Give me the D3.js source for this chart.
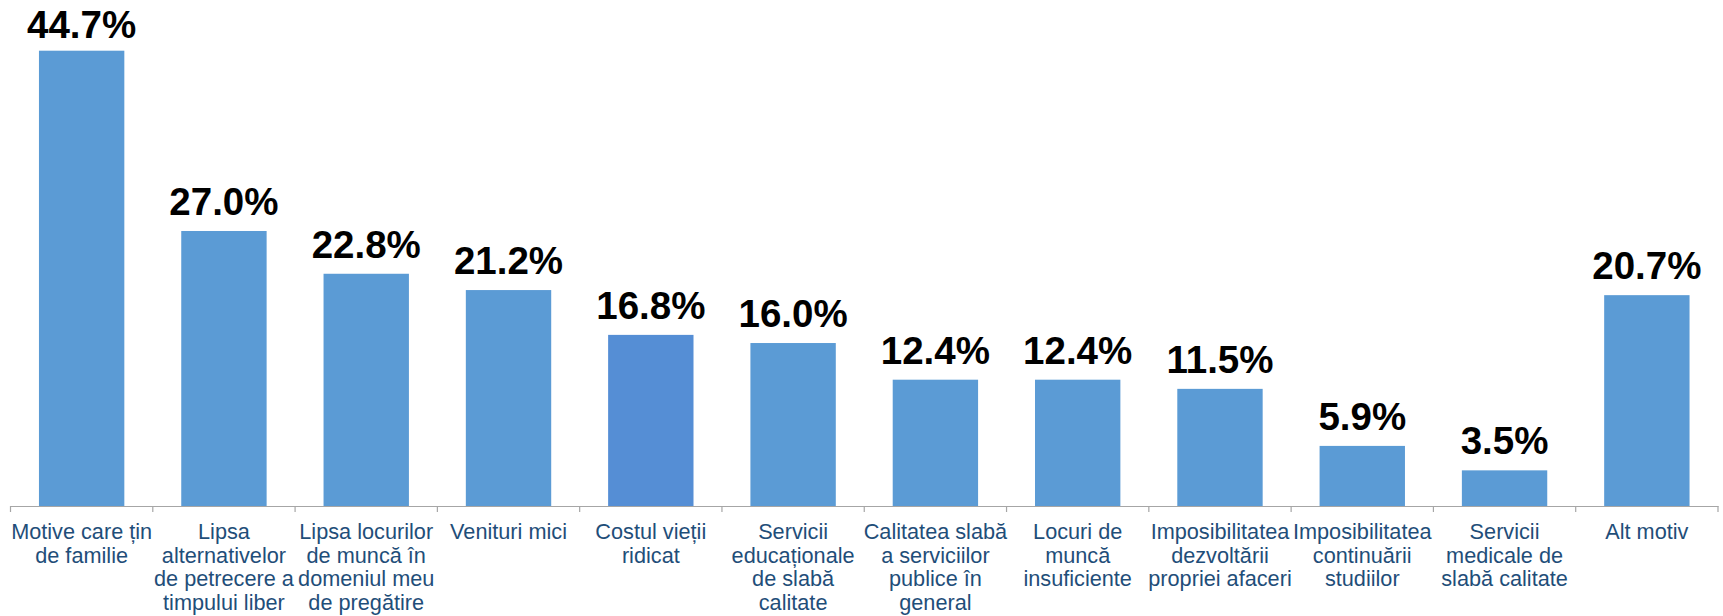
<!DOCTYPE html>
<html>
<head>
<meta charset="utf-8">
<script src="https://cdn.jsdelivr.net/npm/d3@7"></script>
<style>
  html, body { margin: 0; padding: 0; background: #fff; }
  svg { display: block; }
</style>
</head>
<body>
<svg id="chart" width="1723" height="616"></svg>
<script>
const categories = [
  "Motive care țin de familie",
  "Lipsa alternativelor de petrecere a timpului liber",
  "Lipsa locurilor de muncă în domeniul meu de pregătire",
  "Venituri mici",
  "Costul vieții ridicat",
  "Servicii educaționale de slabă calitate",
  "Calitatea slabă a serviciilor publice în general",
  "Locuri de muncă insuficiente",
  "Imposibilitatea dezvoltării propriei afaceri",
  "Imposibilitatea continuării studiilor",
  "Servicii medicale de slabă calitate",
  "Alt motiv"
];
const labelLines = [
  ["Motive care țin", "de familie"],
  ["Lipsa", "alternativelor", "de petrecere a", "timpului liber"],
  ["Lipsa locurilor", "de muncă în", "domeniul meu", "de pregătire"],
  ["Venituri mici"],
  ["Costul vieții", "ridicat"],
  ["Servicii", "educaționale", "de slabă", "calitate"],
  ["Calitatea slabă", "a serviciilor", "publice în", "general"],
  ["Locuri de", "muncă", "insuficiente"],
  ["Imposibilitatea", "dezvoltării", "propriei afaceri"],
  ["Imposibilitatea", "continuării", "studiilor"],
  ["Servicii", "medicale de", "slabă calitate"],
  ["Alt motiv"]
];
const values = [44.7, 27.0, 22.8, 21.2, 16.8, 16.0, 12.4, 12.4, 11.5, 5.9, 3.5, 20.7];
const highlighted = ["Costul vieții ridicat"];

const svg = d3.select("#chart");
const axisY = 506;

const x = d3.scaleBand()
  .domain(categories)
  .range([10.5, 1718])
  .paddingInner(0.4)
  .paddingOuter(0.2);

const y = d3.scaleLinear()
  .domain([0, 44.7])
  .range([axisY, 50.7]);

const data = categories.map((c, i) => ({ cat: c, value: values[i], lines: labelLines[i] }));

// bars
svg.append("g").selectAll("rect")
  .data(data)
  .join("rect")
  .attr("x", d => x(d.cat))
  .attr("y", d => y(d.value))
  .attr("width", x.bandwidth())
  .attr("height", d => y(0) - y(d.value))
  .attr("fill", d => highlighted.includes(d.cat) ? "#558ED5" : "#5B9BD5");

// value labels
svg.append("g").selectAll("text")
  .data(data)
  .join("text")
  .attr("x", d => x(d.cat) + x.bandwidth() / 2)
  .attr("y", d => Math.max(y(d.value) - 16, 38))
  .attr("text-anchor", "middle")
  .attr("font-family", "Liberation Sans, Arial, sans-serif")
  .attr("font-weight", "bold")
  .attr("font-size", 38.5)
  .attr("fill", "#000")
  .text(d => d.value.toFixed(1) + "%");

// axis
const axis = d3.axisBottom(x).tickSize(0).tickFormat("");
const axG = svg.append("g").attr("transform", `translate(0,${axisY})`).call(axis);
axG.select(".domain").attr("stroke", "#A6A6A6").attr("stroke-width", 1.2);
axG.selectAll(".tick").remove();

const step = x.step();
const boundaries = categories.map(c => x(c) - step * x.paddingInner() / 2)
  .concat([x(categories[categories.length - 1]) + x.bandwidth() + step * x.paddingInner() / 2]);
svg.append("g").selectAll("line")
  .data(boundaries)
  .join("line")
  .attr("x1", d => d).attr("x2", d => d)
  .attr("y1", axisY).attr("y2", axisY + 6)
  .attr("stroke", "#A6A6A6").attr("stroke-width", 1.2);

// category labels
const lab = svg.append("g").selectAll("text")
  .data(data)
  .join("text")
  .attr("text-anchor", "middle")
  .attr("font-family", "Liberation Sans, Arial, sans-serif")
  .attr("font-size", 21.7)
  .attr("fill", "#1F4E79");
lab.each(function(d) {
  const t = d3.select(this);
  const cx = x(d.cat) + x.bandwidth() / 2;
  d.lines.forEach((ln, i) => {
    t.append("tspan").attr("x", cx).attr("y", 539 + i * 23.6).text(ln);
  });
});
</script>
</body>
</html>
